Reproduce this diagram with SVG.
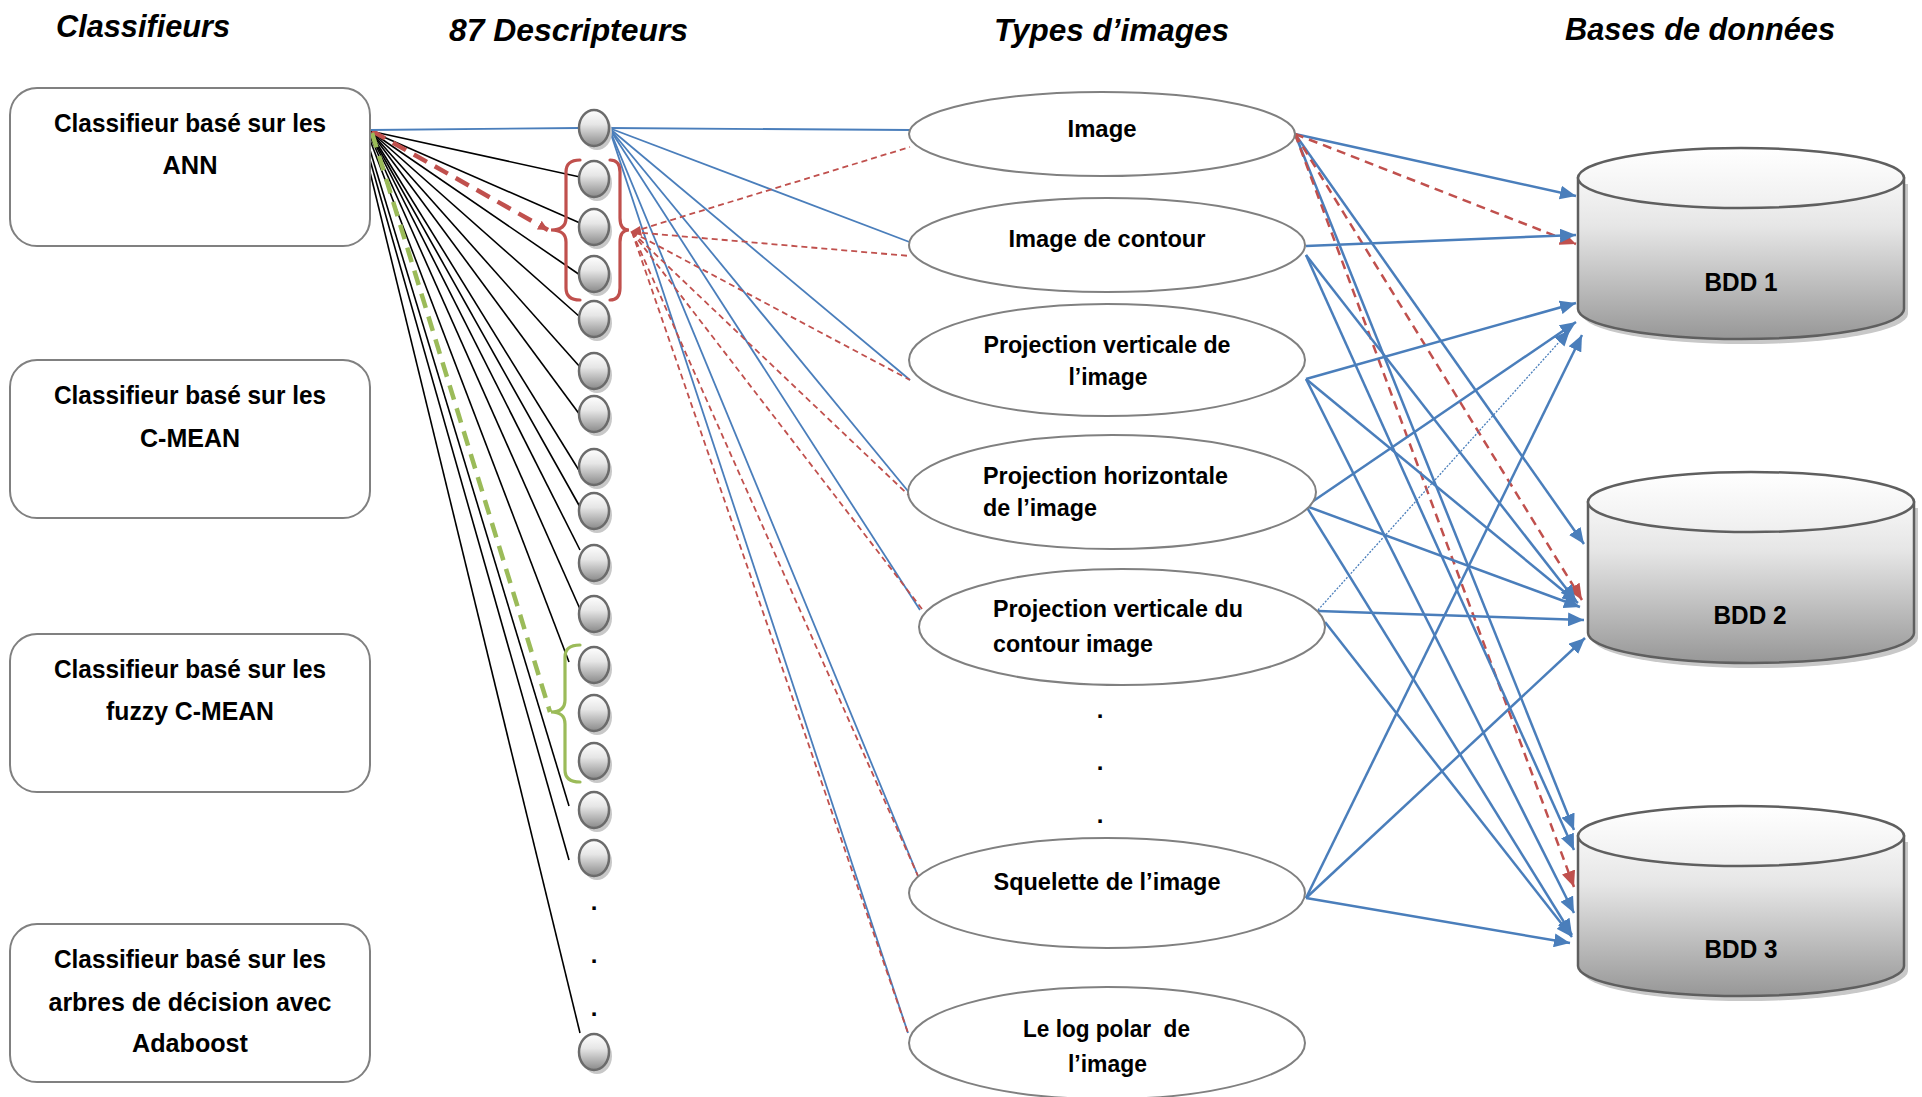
<svg xmlns="http://www.w3.org/2000/svg" width="1922" height="1097" viewBox="0 0 1922 1097">
<defs>
<style>
.title{font-family:'Liberation Sans',Arial,sans-serif;font-weight:bold;font-style:italic;font-size:31px;fill:#000}
.bx{font-family:'Liberation Sans',Arial,sans-serif;font-weight:bold;font-size:26px;fill:#000}
.el{font-family:'Liberation Sans',Arial,sans-serif;font-weight:bold;font-size:24px;fill:#000;white-space:pre}
.db{font-family:'Liberation Sans',Arial,sans-serif;font-weight:bold;font-size:25px;fill:#000}
.dot{font-family:'Liberation Sans',Arial,sans-serif;font-weight:bold;font-size:24px;fill:#000}
.box{fill:#fff;stroke:#808080;stroke-width:2}
.ell{fill:#fff;stroke:#808080;stroke-width:2}
.desc{fill:url(#gDesc);stroke:#6b6b6b;stroke-width:2.5}
.dsh{fill:#c8c8c8}
.blk{stroke:#000;stroke-width:1.6;fill:none}
.blu{stroke:#4a7ebb;stroke-width:1.8;fill:none}
.rdt{stroke:#c0504d;stroke-width:1.8;stroke-dasharray:6 4;fill:none}
.arw{stroke:#4a7ebb;stroke-width:2.5;fill:none;marker-end:url(#mBlue)}
.arr{stroke:#c0504d;stroke-width:2.5;stroke-dasharray:9 6;fill:none;marker-end:url(#mRed)}
.thin{stroke:#4a7ebb;stroke-width:1.3;stroke-dasharray:2 1.5;fill:none;marker-end:url(#mBlue)}
.cyl{stroke:#5f5f5f;stroke-width:2.5}
.csh{fill:#c8c8c8}
</style>
<linearGradient id="gDesc" x1="0" y1="0" x2="0" y2="1">
<stop offset="0" stop-color="#ffffff"/><stop offset="0.4" stop-color="#e6e6e6"/><stop offset="1" stop-color="#8a8a8a"/>
</linearGradient>
<linearGradient id="gBody" x1="0" y1="0" x2="0" y2="1">
<stop offset="0" stop-color="#f6f6f6"/><stop offset="0.3" stop-color="#e6e6e6"/><stop offset="1" stop-color="#979797"/>
</linearGradient>
<linearGradient id="gTop" x1="0" y1="0" x2="0" y2="1">
<stop offset="0" stop-color="#ffffff"/><stop offset="1" stop-color="#efefef"/>
</linearGradient>
<marker id="mBlue" markerUnits="userSpaceOnUse" markerWidth="16" markerHeight="14" viewBox="0 0 16 14" refX="16" refY="7" orient="auto">
<path d="M0,0 L16,7 L0,14 z" fill="#4a7ebb"/>
</marker>
<marker id="mRed" markerUnits="userSpaceOnUse" markerWidth="16" markerHeight="14" viewBox="0 0 16 14" refX="16" refY="7" orient="auto">
<path d="M0,0 L16,7 L0,14 z" fill="#c0504d"/>
</marker>
<marker id="mRedS" markerUnits="userSpaceOnUse" markerWidth="10" markerHeight="10" viewBox="0 0 10 10" refX="10" refY="5" orient="auto">
<path d="M0,0 L10,5 L0,10 z" fill="#c0504d"/>
</marker>
</defs>
<rect width="1922" height="1097" fill="#fff"/>

<g id="titles">
<text class="title" x="56" y="37" textLength="174" lengthAdjust="spacingAndGlyphs">Classifieurs</text>
<text class="title" x="449" y="41" textLength="239" lengthAdjust="spacingAndGlyphs">87 Descripteurs</text>
<text class="title" x="994" y="41" textLength="235" lengthAdjust="spacingAndGlyphs">Types d’images</text>
<text class="title" x="1565" y="40" textLength="270" lengthAdjust="spacingAndGlyphs">Bases de données</text>
</g>

<g id="connectors">
<!-- black lines from ANN classifier to descriptors -->
<line class="blk" x1="370" y1="131" x2="580" y2="177"/>
<line class="blk" x1="370" y1="131" x2="580" y2="223"/>
<line class="blk" x1="370" y1="131" x2="580" y2="275"/>
<line class="blk" x1="370" y1="131" x2="580" y2="317"/>
<line class="blk" x1="370" y1="131" x2="580" y2="367"/>
<line class="blk" x1="370" y1="131" x2="580" y2="415"/>
<line class="blk" x1="370" y1="132" x2="580" y2="472"/>
<line class="blk" x1="370" y1="133" x2="580" y2="507"/>
<line class="blk" x1="370" y1="134" x2="580" y2="550"/>
<line class="blk" x1="370" y1="136" x2="580" y2="609"/>
<line class="blk" x1="370" y1="140" x2="569" y2="662"/>
<line class="blk" x1="370" y1="150" x2="569" y2="806"/>
<line class="blk" x1="370" y1="160" x2="569" y2="860"/>
<line class="blk" x1="370" y1="172" x2="580" y2="1033"/>
<!-- thick dashed to braces -->
<line x1="372" y1="131" x2="548" y2="230" stroke="#c0504d" stroke-width="4.5" stroke-dasharray="15 9" marker-end="url(#mRedS)"/>
<line x1="372" y1="133" x2="550" y2="712" stroke="#9bbb59" stroke-width="4.5" stroke-dasharray="15 9"/>
<!-- blue from classifier to descriptor 1 and to image types -->
<line class="blu" x1="370" y1="130" x2="580" y2="128"/>
<line class="blu" x1="609" y1="128" x2="910" y2="130"/>
<line class="blu" x1="609" y1="128" x2="920" y2="246"/>
<line class="blu" x1="609" y1="128" x2="910" y2="380"/>
<line class="blu" x1="609" y1="128" x2="917" y2="502"/>
<line class="blu" x1="609" y1="128" x2="920" y2="610"/>
<line class="blu" x1="609" y1="128" x2="918" y2="876"/>
<line class="blu" x1="609" y1="128" x2="908" y2="1033"/>
<!-- red dashed from brace to image types -->
<line class="rdt" x1="632" y1="232" x2="910" y2="147"/>
<line class="rdt" x1="632" y1="232" x2="910" y2="256"/>
<line class="rdt" x1="632" y1="232" x2="910" y2="380"/>
<line class="rdt" x1="632" y1="232" x2="920" y2="506"/>
<line class="rdt" x1="632" y1="232" x2="922" y2="609"/>
<line class="rdt" x1="632" y1="232" x2="918" y2="876"/>
<line class="rdt" x1="632" y1="232" x2="908" y2="1033"/>
<path d="M642,236 L630,232 L640,226 z" fill="#c0504d"/>
<!-- arrows to databases -->
<line class="arw" x1="1295" y1="134" x2="1576" y2="196"/>
<line class="arw" x1="1295" y1="134" x2="1584" y2="544"/>
<line class="arw" x1="1295" y1="134" x2="1574" y2="830"/>
<line class="arr" x1="1295" y1="134" x2="1576" y2="244"/>
<line class="arr" x1="1295" y1="134" x2="1582" y2="600"/>
<line class="arr" x1="1295" y1="134" x2="1574" y2="887"/>
<line class="arw" x1="1306" y1="246" x2="1576" y2="235"/>
<line class="arw" x1="1306" y1="255" x2="1576" y2="601"/>
<line class="arw" x1="1306" y1="255" x2="1574" y2="850"/>
<line class="arw" x1="1306" y1="379" x2="1576" y2="303"/>
<line class="arw" x1="1306" y1="379" x2="1578" y2="603"/>
<line class="arw" x1="1306" y1="379" x2="1574" y2="913"/>
<line class="arw" x1="1306" y1="506" x2="1576" y2="322"/>
<line class="arw" x1="1306" y1="506" x2="1580" y2="607"/>
<line class="arw" x1="1306" y1="506" x2="1572" y2="935"/>
<line class="thin" x1="1318" y1="610" x2="1570" y2="330"/>
<line class="arw" x1="1318" y1="611" x2="1584" y2="620"/>
<line class="arw" x1="1325" y1="622" x2="1572" y2="937"/>
<line class="arw" x1="1306" y1="898" x2="1582" y2="335"/>
<line class="arw" x1="1306" y1="898" x2="1585" y2="638"/>
<line class="arw" x1="1306" y1="898" x2="1570" y2="943"/>
</g>

<g id="classifier-ann">
<rect class="box" x="10" y="88" width="360" height="158" rx="27" ry="27"/>
<text class="bx" x="190" y="132" text-anchor="middle" textLength="272" lengthAdjust="spacingAndGlyphs">Classifieur basé sur les</text>
<text class="bx" x="190" y="174" text-anchor="middle" textLength="55" lengthAdjust="spacingAndGlyphs">ANN</text>
</g>
<g id="classifier-cmean">
<rect class="box" x="10" y="360" width="360" height="158" rx="27" ry="27"/>
<text class="bx" x="190" y="404" text-anchor="middle" textLength="272" lengthAdjust="spacingAndGlyphs">Classifieur basé sur les</text>
<text class="bx" x="190" y="447" text-anchor="middle" textLength="100" lengthAdjust="spacingAndGlyphs">C-MEAN</text>
</g>
<g id="classifier-fuzzy">
<rect class="box" x="10" y="634" width="360" height="158" rx="27" ry="27"/>
<text class="bx" x="190" y="678" text-anchor="middle" textLength="272" lengthAdjust="spacingAndGlyphs">Classifieur basé sur les</text>
<text class="bx" x="190" y="720" text-anchor="middle" textLength="168" lengthAdjust="spacingAndGlyphs">fuzzy C-MEAN</text>
</g>
<g id="classifier-adaboost">
<rect class="box" x="10" y="924" width="360" height="158" rx="27" ry="27"/>
<text class="bx" x="190" y="968" text-anchor="middle" textLength="272" lengthAdjust="spacingAndGlyphs">Classifieur basé sur les</text>
<text class="bx" x="190" y="1011" text-anchor="middle" textLength="283" lengthAdjust="spacingAndGlyphs">arbres de décision avec</text>
<text class="bx" x="190" y="1052" text-anchor="middle" textLength="116" lengthAdjust="spacingAndGlyphs">Adaboost</text>
</g>

<g id="descripteurs">
<g id="d1"><ellipse class="dsh" cx="597" cy="132" rx="15" ry="18"/><ellipse class="desc" cx="594" cy="128" rx="15" ry="18"/></g>
<g id="d2"><ellipse class="dsh" cx="597" cy="183" rx="15" ry="18"/><ellipse class="desc" cx="594" cy="179" rx="15" ry="18"/></g>
<g id="d3"><ellipse class="dsh" cx="597" cy="231" rx="15" ry="18"/><ellipse class="desc" cx="594" cy="227" rx="15" ry="18"/></g>
<g id="d4"><ellipse class="dsh" cx="597" cy="278" rx="15" ry="18"/><ellipse class="desc" cx="594" cy="274" rx="15" ry="18"/></g>
<g id="d5"><ellipse class="dsh" cx="597" cy="323" rx="15" ry="18"/><ellipse class="desc" cx="594" cy="319" rx="15" ry="18"/></g>
<g id="d6"><ellipse class="dsh" cx="597" cy="375" rx="15" ry="18"/><ellipse class="desc" cx="594" cy="371" rx="15" ry="18"/></g>
<g id="d7"><ellipse class="dsh" cx="597" cy="418" rx="15" ry="18"/><ellipse class="desc" cx="594" cy="414" rx="15" ry="18"/></g>
<g id="d8"><ellipse class="dsh" cx="597" cy="471" rx="15" ry="18"/><ellipse class="desc" cx="594" cy="467" rx="15" ry="18"/></g>
<g id="d9"><ellipse class="dsh" cx="597" cy="515" rx="15" ry="18"/><ellipse class="desc" cx="594" cy="511" rx="15" ry="18"/></g>
<g id="d10"><ellipse class="dsh" cx="597" cy="567" rx="15" ry="18"/><ellipse class="desc" cx="594" cy="563" rx="15" ry="18"/></g>
<g id="d11"><ellipse class="dsh" cx="597" cy="618" rx="15" ry="18"/><ellipse class="desc" cx="594" cy="614" rx="15" ry="18"/></g>
<g id="d12"><ellipse class="dsh" cx="597" cy="669" rx="15" ry="18"/><ellipse class="desc" cx="594" cy="665" rx="15" ry="18"/></g>
<g id="d13"><ellipse class="dsh" cx="597" cy="717" rx="15" ry="18"/><ellipse class="desc" cx="594" cy="713" rx="15" ry="18"/></g>
<g id="d14"><ellipse class="dsh" cx="597" cy="765" rx="15" ry="18"/><ellipse class="desc" cx="594" cy="761" rx="15" ry="18"/></g>
<g id="d15"><ellipse class="dsh" cx="597" cy="814" rx="15" ry="18"/><ellipse class="desc" cx="594" cy="810" rx="15" ry="18"/></g>
<g id="d16"><ellipse class="dsh" cx="597" cy="862" rx="15" ry="18"/><ellipse class="desc" cx="594" cy="858" rx="15" ry="18"/></g>
<text class="dot" x="594" y="910" text-anchor="middle">.</text>
<text class="dot" x="594" y="963" text-anchor="middle">.</text>
<text class="dot" x="594" y="1016" text-anchor="middle">.</text>
<g id="d87"><ellipse class="dsh" cx="597" cy="1056" rx="15" ry="18"/><ellipse class="desc" cx="594" cy="1052" rx="15" ry="18"/></g>
</g>

<g id="braces" fill="none" stroke-width="3.2" stroke-linecap="round">
<path stroke="#c0504d" d="M580,160 Q566,160 566,172 L566,218 Q566,230 551,230 Q566,230 566,242 L566,288 Q566,300 580,300"/>
<path stroke="#c0504d" d="M610,160 Q620,160 620,172 L620,218 Q620,230 629,230 Q620,230 620,242 L620,288 Q620,300 610,300"/>
<path stroke="#9bbb59" d="M580,645 Q565,645 565,657 L565,700 Q565,712 551,712 Q565,712 565,724 L565,770 Q565,782 580,782"/>
</g>

<g id="type-image">
<ellipse class="ell" cx="1102" cy="134" rx="193" ry="42"/>
<text class="el" x="1102" y="137" text-anchor="middle" textLength="69" lengthAdjust="spacingAndGlyphs">Image</text>
</g>
<g id="type-contour">
<ellipse class="ell" cx="1107" cy="245" rx="198" ry="47"/>
<text class="el" x="1107" y="247" text-anchor="middle" textLength="197" lengthAdjust="spacingAndGlyphs">Image de contour</text>
</g>
<g id="type-projv">
<ellipse class="ell" cx="1107" cy="360" rx="198" ry="56"/>
<text class="el" x="1107" y="353" text-anchor="middle" textLength="247" lengthAdjust="spacingAndGlyphs">Projection verticale de</text>
<text class="el" x="1108" y="385" text-anchor="middle" textLength="79" lengthAdjust="spacingAndGlyphs">l’image</text>
</g>
<g id="type-projh">
<ellipse class="ell" cx="1112" cy="492" rx="204" ry="57"/>
<text class="el" x="983" y="484" textLength="245" lengthAdjust="spacingAndGlyphs">Projection horizontale</text>
<text class="el" x="983" y="516" textLength="114" lengthAdjust="spacingAndGlyphs">de l’image</text>
</g>
<g id="type-projvc">
<ellipse class="ell" cx="1122" cy="627" rx="203" ry="58"/>
<text class="el" x="993" y="617" textLength="250" lengthAdjust="spacingAndGlyphs">Projection verticale du</text>
<text class="el" x="993" y="652" textLength="160" lengthAdjust="spacingAndGlyphs">contour image</text>
</g>
<g id="type-dots">
<text class="dot" x="1100" y="718" text-anchor="middle">.</text>
<text class="dot" x="1100" y="770" text-anchor="middle">.</text>
<text class="dot" x="1100" y="823" text-anchor="middle">.</text>
</g>
<g id="type-squelette">
<ellipse class="ell" cx="1107" cy="893" rx="198" ry="55"/>
<text class="el" x="1107" y="890" text-anchor="middle" textLength="227" lengthAdjust="spacingAndGlyphs">Squelette de l’image</text>
</g>
<g id="type-logpolar">
<ellipse class="ell" cx="1107" cy="1043" rx="198" ry="56"/>
<text class="el" x="1023" y="1037" textLength="167" lengthAdjust="spacingAndGlyphs">Le log polar  de</text>
<text class="el" x="1068" y="1072" textLength="79" lengthAdjust="spacingAndGlyphs">l’image</text>
</g>

<g id="bdd1">
<path class="csh" d="M1582,184 L1582,314 A163,30 0 0 0 1908,314 L1908,184 Z"/>
<path class="cyl" fill="url(#gBody)" d="M1578,178 L1578,309 A163,30 0 0 0 1904,309 L1904,178 Z"/>
<ellipse class="cyl" fill="url(#gTop)" cx="1741" cy="178" rx="163" ry="30"/>
<text class="db" x="1741" y="291" text-anchor="middle" textLength="73" lengthAdjust="spacingAndGlyphs">BDD 1</text>
</g>
<g id="bdd2">
<path class="csh" d="M1592,508 L1592,638 A163,30 0 0 0 1918,638 L1918,508 Z"/>
<path class="cyl" fill="url(#gBody)" d="M1588,502 L1588,633 A163,30 0 0 0 1914,633 L1914,502 Z"/>
<ellipse class="cyl" fill="url(#gTop)" cx="1751" cy="502" rx="163" ry="30"/>
<text class="db" x="1750" y="624" text-anchor="middle" textLength="73" lengthAdjust="spacingAndGlyphs">BDD 2</text>
</g>
<g id="bdd3">
<path class="csh" d="M1582,842 L1582,971 A163,30 0 0 0 1908,971 L1908,842 Z"/>
<path class="cyl" fill="url(#gBody)" d="M1578,836 L1578,966 A163,30 0 0 0 1904,966 L1904,836 Z"/>
<ellipse class="cyl" fill="url(#gTop)" cx="1741" cy="836" rx="163" ry="30"/>
<text class="db" x="1741" y="958" text-anchor="middle" textLength="73" lengthAdjust="spacingAndGlyphs">BDD 3</text>
</g>
</svg>
